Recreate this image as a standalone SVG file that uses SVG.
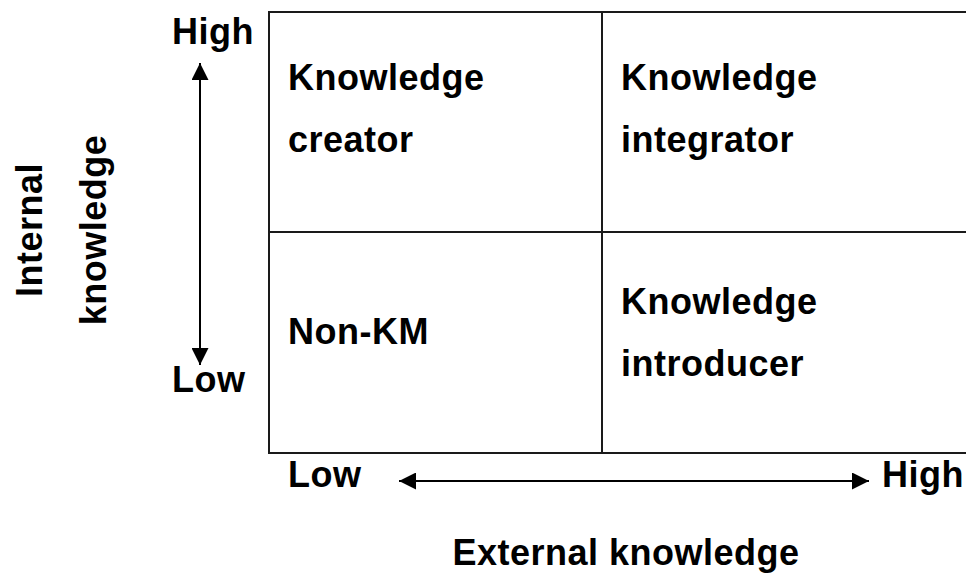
<svg xmlns="http://www.w3.org/2000/svg" width="966" height="575" viewBox="0 0 966 575">
<style>
text{font-family:"Liberation Sans",Arial,sans-serif;font-weight:bold;font-size:36px;letter-spacing:0.5px;fill:#000}
.ln{stroke:#1a1a1a;stroke-width:2;fill:none}
.ax{stroke:#000;stroke-width:2;fill:none}
</style>
<defs>
<marker id="ah" viewBox="0 0 10 10" refX="10" refY="5" markerWidth="17" markerHeight="17" markerUnits="userSpaceOnUse" orient="auto-start-reverse">
<path d="M0,0 L10,5 L0,10 z" fill="#000"/>
</marker>
</defs>
<rect width="966" height="575" fill="#fff"/>
<g id="grid">
<path class="ln" d="M968,12 H269 V453 H968 M269,232 H968 M602,12 V453"/>
</g>
<g id="q-creator"><text x="288" y="90">Knowledge</text><text x="288" y="152">creator</text></g>
<g id="q-integrator"><text x="621" y="90">Knowledge</text><text x="621" y="152">integrator</text></g>
<g id="q-nonkm"><text x="288" y="344">Non-KM</text></g>
<g id="q-introducer"><text x="621" y="314">Knowledge</text><text x="621" y="376">introducer</text></g>
<g id="connectors">
<line class="ax" x1="200" y1="63" x2="200" y2="365" marker-start="url(#ah)" marker-end="url(#ah)"/>
<line class="ax" x1="399" y1="481" x2="869" y2="481" marker-start="url(#ah)" marker-end="url(#ah)"/>
</g>
<g id="labels">
<text x="172" y="44">High</text>
<text x="172" y="392">Low</text>
<text x="288" y="487">Low</text>
<text x="882" y="487">High</text>
<text x="626" y="565" text-anchor="middle">External knowledge</text>
<text transform="translate(42,230) rotate(-90)" text-anchor="middle">Internal</text>
<text transform="translate(106,230) rotate(-90)" text-anchor="middle">knowledge</text>
</g>
</svg>
